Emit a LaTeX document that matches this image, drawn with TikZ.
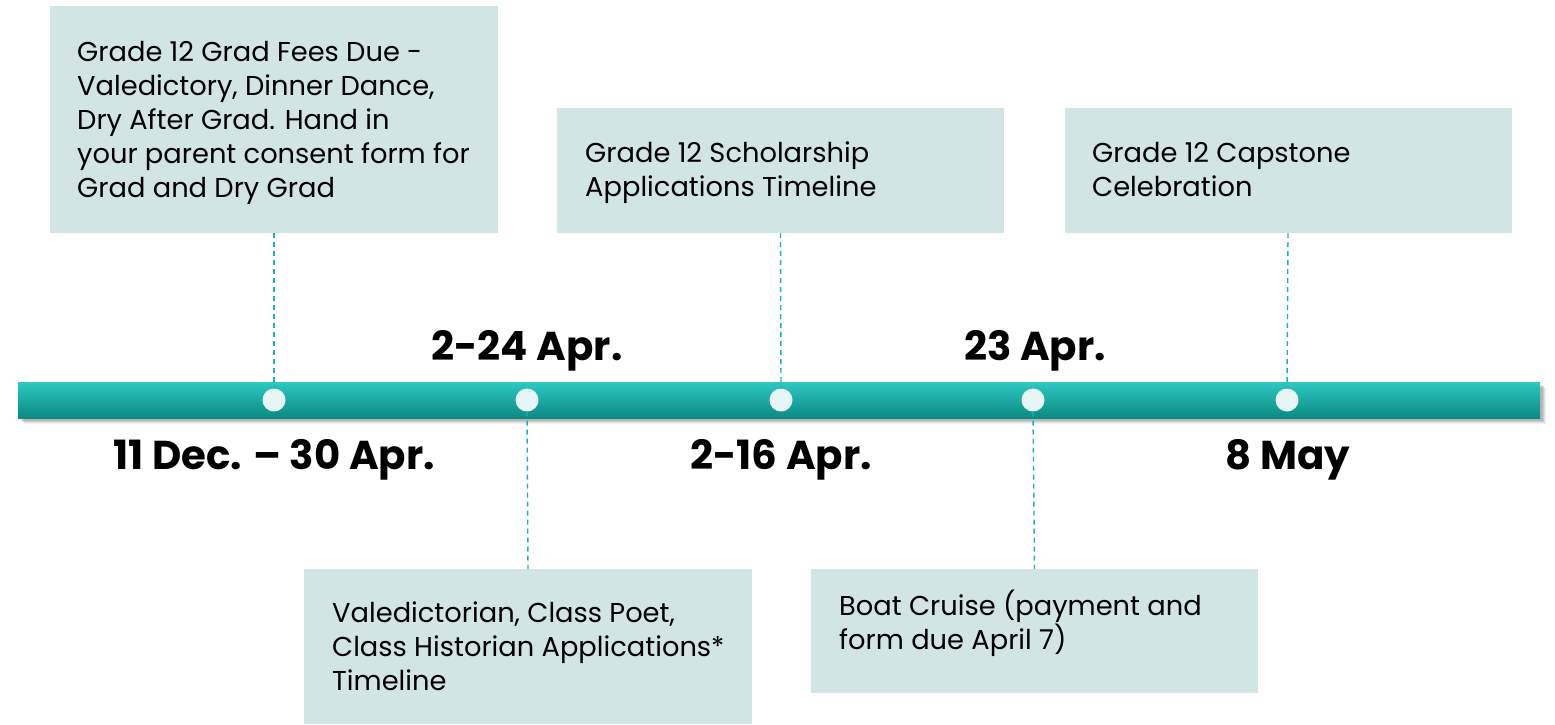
\documentclass[tikz,border=0pt]{standalone}
\usepackage{fontspec}
\setmainfont{Poppins}
\definecolor{boxc}{HTML}{D1E5E4}
\definecolor{bartop}{HTML}{2DC9C2}
\definecolor{barbot}{HTML}{0B8981}
\definecolor{dotc}{HTML}{E6F5F5}
\definecolor{dashc}{HTML}{1AB3AE}
\tikzset{
  anchorpt/.style={inner sep=0, minimum size=0},
  txt/.style={anchor=base west, align=left, inner sep=0, font=\fontsize{27.3}{34}\selectfont},
  datelbl/.style={anchor=base, inner sep=0, font=\fontsize{40.3}{46}\selectfont\bfseries},
  dotnode/.style={circle, fill=dotc, minimum size=23, inner sep=0},
  dashline/.style={draw=dashc, line width=1.4pt, dash pattern=on 5pt off 4pt}
}
\begin{document}
\begin{tikzpicture}[x=1pt,y=-1pt]
\useasboundingbox (0,0) rectangle (1555,724);
% boxes
\fill[boxc] (50,6) rectangle (498,233);
\node[anchorpt] (b1s) at (274,233) {};
\fill[boxc] (557,108) rectangle (1004,233);
\node[anchorpt] (b2s) at (780.5,233) {};
\fill[boxc] (1065,108) rectangle (1512,233);
\node[anchorpt] (b3s) at (1288,233) {};
\fill[boxc] (304,569) rectangle (752,724);
\node[anchorpt] (b4n) at (528,569) {};
\fill[boxc] (811,569) rectangle (1258,693);
\node[anchorpt] (b5n) at (1034.5,569) {};
% texts (anchored at the baseline of the last line)
\node[txt] (t1) at (77,197) {Grade 12 Grad Fees Due -\\Valedictory, Dinner Dance,\\Dry After Grad. Hand in\\your parent consent form for\\Grad and Dry Grad};
\node[txt] (t2) at (585,196) {Grade 12 Scholarship\\Applications Timeline};
\node[txt] (t3) at (1092,196) {Grade 12 Capstone\\Celebration};
\node[txt] (t4) at (332,690) {Valedictorian, Class Poet,\\Class Historian Applications*\\Timeline};
\node[txt] (t5) at (839,649) {Boat Cruise (payment and\\form due April 7)};
% bar shadow
\foreach \o/\a in {6/0.05,5/0.07,4/0.09,3/0.11}{
  \fill[black, opacity=\a] (18+\o,382+\o) rectangle (1540+\o,418+\o);
}
\shade[top color=bartop, bottom color=barbot] (18,382) rectangle (1540,418);
% dots
\node[dotnode] (d1) at (274,400) {};
\node[dotnode] (d2) at (527,400) {};
\node[dotnode] (d3) at (781,400) {};
\node[dotnode] (d4) at (1033,400) {};
\node[dotnode] (d5) at (1287,400) {};
% dashed connectors
\draw[dashline] (b1s) -- (d1.north);
\draw[dashline] (b2s) -- (d3.north);
\draw[dashline] (b3s) -- (d5.north);
\draw[dashline] (d2.south) -- (b4n);
\draw[dashline] (d4.south) -- (b5n);
% dates
\node[datelbl] (l1) at (274,469) {11 Dec. – 30 Apr.};
\node[datelbl] (l2) at (527,360) {2-24 Apr.};
\node[datelbl] (l3) at (781,469) {2-16 Apr.};
\node[datelbl] (l4) at (1035,360) {23 Apr.};
\node[datelbl] (l5) at (1288,469) {8 May};
\end{tikzpicture}
\end{document}
